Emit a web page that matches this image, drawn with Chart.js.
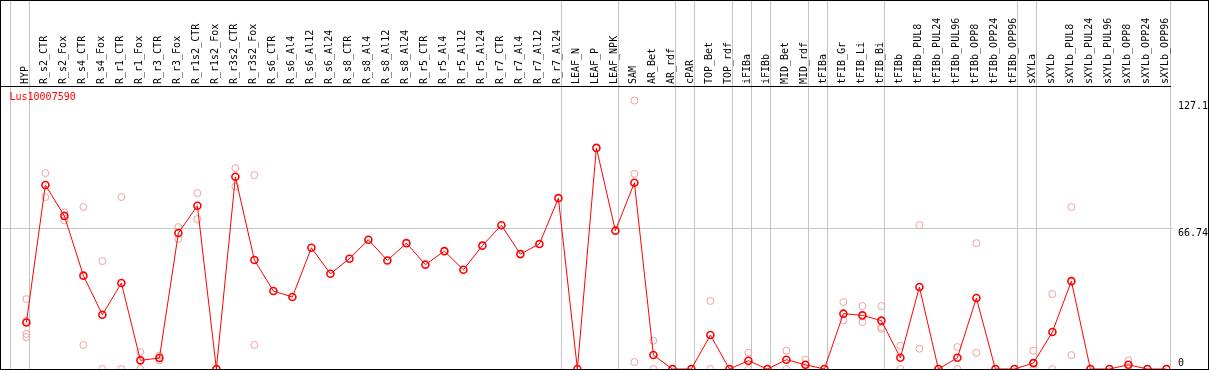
<!DOCTYPE html>
<html>
<head>
<meta charset="utf-8">
<script src="https://cdn.jsdelivr.net/npm/chart.js@4"></script>
<style>
  body { margin: 0; background: #fff; }
  #wrap { width: 1207px; height: 368px; border: 1px solid #000; position: relative; }
</style>
</head>
<body>
<div id="wrap"><canvas id="chart"></canvas></div>
<script>
const geneName = "Lus10007590";

const categories = [
  "HYP", "R_s2_CTR", "R_s2_Fox", "R_s4_CTR", "R_s4_Fox", "R_r1_CTR", "R_r1_Fox", "R_r3_CTR", "R_r3_Fox",
  "R_r1s2_CTR", "R_r1s2_Fox", "R_r3s2_CTR", "R_r3s2_Fox", "R_s6_CTR", "R_s6_Al4", "R_s6_Al12", "R_s6_Al24",
  "R_s8_CTR", "R_s8_Al4", "R_s8_Al12", "R_s8_Al24", "R_r5_CTR", "R_r5_Al4", "R_r5_Al12", "R_r5_Al24",
  "R_r7_CTR", "R_r7_Al4", "R_r7_Al12", "R_r7_Al24", "LEAF_N", "LEAF_P", "LEAF_NPK", "SAM", "AR_Bet", "AR_rdf",
  "cPAR", "TOP_Bet", "TOP_rdf", "iFIBa", "iFIBb", "MID_Bet", "MID_rdf", "tFIBa", "tFIB_Gr", "tFIB_Li", "tFIB_Bi",
  "tFIBb", "tFIBb_PUL8", "tFIBb_PUL24", "tFIBb_PUL96", "tFIBb_OPP8", "tFIBb_OPP24", "tFIBb_OPP96", "sXYLa",
  "sXYLb", "sXYLb_PUL8", "sXYLb_PUL24", "sXYLb_PUL96", "sXYLb_OPP8", "sXYLb_OPP24", "sXYLb_OPP96",
];

// mean per sample
const means = [
  22.0, 87.1, 72.5, 44.2, 25.7, 40.7, 4.1, 5.2, 64.4,
  77.3, 0, 91.0, 51.6, 36.9, 34.1, 57.4, 45.1,
  52.2, 61.2, 51.4, 59.6, 49.4, 55.8, 47.0, 58.4,
  68.1, 54.4, 59.2, 80.9, 0, 104.7, 65.5, 88.2, 6.6, 0,
  0, 16.1, 0, 3.9, 0, 4.4, 2.0, 0, 26.2, 25.4, 22.9,
  5.3, 38.8, 0, 5.3, 33.6, 0, 0, 2.8,
  17.5, 41.6, 0, 0, 2.0, 0, 0,
];

// individual replicates per sample (faint circles)
const replicates = [
  [33.1, 22.8, 16.6, 15.1], [92.8, 81.4], [74.1, 70.3], [76.7, 11.4], [51.1, 0], [81.4, 0], [8.0, 0], [6.3, 4.1], [67.2, 61.5],
  [83.3, 71.0], [0, 0], [95.1, 86.4], [91.8, 11.4], [], [], [], [],
  [], [], [], [], [], [], [], [],
  [], [], [], [], [], [], [], [127.1, 92.4, 3.3], [13.4, 0], [0, 0],
  [0, 0], [32.2, 0], [0, 0], [7.7, 0], [0, 0], [8.7, 0], [4.4, 0], [0, 0], [31.7, 23.0], [29.8, 22.2], [29.8, 19.9, 19.1],
  [11.0, 0], [68.1, 9.6], [0, 0], [10.4, 0], [59.6, 7.7], [0, 0], [0, 0], [8.7, 0],
  [35.5, 0], [76.7, 6.6], [0, 0], [0, 0], [4.1, 0], [0, 0], [0, 0],
];

const yTicks = [0, 66.74, 127.1];

// index of the last sample in each group (-1 = left edge)
const groupEnds = [-1, 0, 28, 31, 34, 35, 37, 38, 39, 41, 42, 45, 52, 53, 60];

const xMin = -1.336;
const xMax = 60.19;
const mono = { family: "'DejaVu Sans Mono', monospace", size: 10 };

const noPad = (s) => {
  s.paddingLeft = 0;
  s.paddingRight = 0;
  s.paddingTop = 0;
  s.paddingBottom = 0;
};

// gene name in the top-left corner of the plot
const geneLabel = {
  id: "geneLabel",
  afterDraw(chart) {
    const { ctx, chartArea } = chart;
    ctx.save();
    ctx.font = "10px 'DejaVu Sans Mono', monospace";
    ctx.fillStyle = "#ff0000";
    ctx.textBaseline = "middle";
    ctx.fillText(geneName, chartArea.left + 8.5, chartArea.top + 11);
    ctx.restore();
  },
};

const ctx = document.getElementById("chart").getContext("2d");

new Chart(ctx, {
  type: "line",
  data: {
    datasets: [
      {
        label: geneName,
        data: means.map((v, i) => ({ x: i, y: v })),
        borderColor: "#ff0000",
        borderWidth: 1,
        tension: 0,
        pointRadius: 3.5,
        pointBorderWidth: 1.6,
        pointBorderColor: "#ff0000",
        pointBackgroundColor: "rgba(0,0,0,0)",
        order: 0,
      },
      {
        type: "scatter",
        label: "replicates",
        data: replicates.flatMap((reps, i) => reps.map((v) => ({ x: i, y: v }))),
        pointRadius: 3.5,
        pointBorderWidth: 1,
        pointBorderColor: "#f0a0a0",
        pointBackgroundColor: "rgba(0,0,0,0)",
        order: 1,
      },
    ],
  },
  plugins: [geneLabel],
  options: {
    responsive: true,
    maintainAspectRatio: false,
    animation: false,
    layout: { padding: 0, autoPadding: false },
    plugins: {
      tooltip: { enabled: false },
      legend: { display: false },
    },
    scales: {
      x: {
        type: "linear",
        position: "top",
        weight: 1,
        min: xMin,
        max: xMax,
        afterBuildTicks: (s) => {
          s.ticks = categories.map((_, i) => ({ value: i }));
        },
        afterFit: (s) => {
          s.height = 85;
          noPad(s);
        },
        ticks: {
          autoSkip: false,
          minRotation: 90,
          maxRotation: 90,
          padding: 2,
          labelOffset: 11,
          color: "#000",
          font: mono,
          callback: (v) => categories[v],
        },
        grid: { display: false, drawTicks: false },
        border: { display: true, color: "#000", width: 1 },
      },
      x2: {
        type: "linear",
        position: "top",
        weight: 0,
        min: xMin,
        max: xMax,
        afterBuildTicks: (s) => {
          s.ticks = groupEnds.map((i) => ({ value: i + 0.19 }));
        },
        afterFit: (s) => {
          s.height = 0;
          noPad(s);
        },
        ticks: { display: false },
        grid: { color: "#c4c4c4", lineWidth: 1, drawTicks: true, tickLength: 85 },
        border: { display: false },
      },
      y: {
        position: "right",
        min: 0,
        max: 134,
        afterBuildTicks: (s) => {
          s.ticks = yTicks.map((v) => ({ value: v }));
        },
        afterFit: (s) => {
          s.width = 38;
          noPad(s);
        },
        ticks: {
          color: "#000",
          font: { ...mono, lineHeight: 1.1 },
          padding: 5,
          callback: (v) => (v === 0 ? ["0", ""] : ["", String(v)]),
        },
        grid: {
          color: (c) => (c.tick && c.tick.value === 66.74 ? "#c8c8c8" : "rgba(0,0,0,0)"),
          tickLength: 3,
        },
        border: { display: false },
      },
    },
  },
});
</script>
</body>
</html>
